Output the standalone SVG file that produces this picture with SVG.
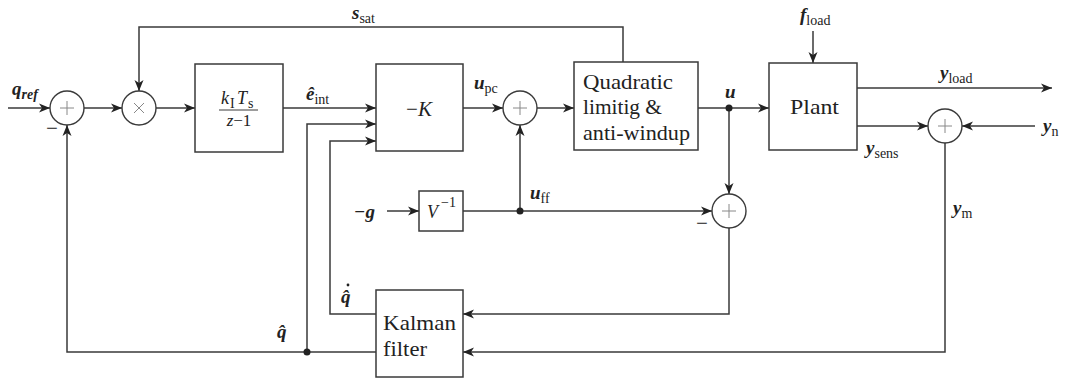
<svg xmlns="http://www.w3.org/2000/svg" width="1067" height="381" viewBox="0 0 1067 381">
<style>
.ln{fill:none;stroke:#3a3a3a;stroke-width:1.5}
.bx{fill:#fff;stroke:#3a3a3a;stroke-width:1.5}
.op{fill:#fff;stroke:#3a3a3a;stroke-width:1.4}
.sg{stroke:#888;stroke-width:1}
text{font-family:"Liberation Serif","DejaVu Serif",serif;fill:#222}
.t{font-size:21px}
.v{font-size:19px;font-style:italic;font-weight:bold}
.s{font-size:14px}
.m{font-size:18px;font-style:italic}
</style>
<defs>
<marker id="ar" markerUnits="userSpaceOnUse" markerWidth="12" markerHeight="10" refX="11" refY="5" orient="auto">
<path d="M0,0.5 L11,5 L0,9.5 L3,5 z" fill="#222"/>
</marker>
</defs>
<g id="connectors">
<path class="ln" marker-end="url(#ar)" d="M8,108 L50,108"/>
<path class="ln" marker-end="url(#ar)" d="M84,108 L122,108"/>
<path class="ln" marker-end="url(#ar)" d="M156,108 L195,108"/>
<path class="ln" marker-end="url(#ar)" d="M283,108 L376,108"/>
<path class="ln" marker-end="url(#ar)" d="M307,352 L307,124 L376,124"/>
<path class="ln" marker-end="url(#ar)" d="M376,314 L330,314 L330,141 L376,141"/>
<path class="ln" marker-end="url(#ar)" d="M463,108 L503,108"/>
<path class="ln" marker-end="url(#ar)" d="M537,108 L574,108"/>
<path class="ln" marker-end="url(#ar)" d="M623,62 L623,27 L139,27 L139,91"/>
<path class="ln" marker-end="url(#ar)" d="M698,108 L769,108"/>
<path class="ln" marker-end="url(#ar)" d="M729,108 L729,194"/>
<path class="ln" marker-end="url(#ar)" d="M813,31 L813,63"/>
<path class="ln" marker-end="url(#ar)" d="M857,88 L1052,88"/>
<path class="ln" marker-end="url(#ar)" d="M857,126 L928,126"/>
<path class="ln" marker-end="url(#ar)" d="M1035,126 L962,126"/>
<path class="ln" marker-end="url(#ar)" d="M945,143 L945,352 L463,352"/>
<path class="ln" marker-end="url(#ar)" d="M729,228 L729,314 L463,314"/>
<path class="ln" marker-end="url(#ar)" d="M376,352 L67,352 L67,125"/>
<path class="ln" marker-end="url(#ar)" d="M387,211 L419,211"/>
<path class="ln" marker-end="url(#ar)" d="M463,211 L712,211"/>
<path class="ln" marker-end="url(#ar)" d="M520,211 L520,125"/>
<circle cx="307" cy="352" r="3.5" fill="#222"/>
<circle cx="520" cy="211" r="3.5" fill="#222"/>
<circle cx="729" cy="108" r="3.5" fill="#222"/>
</g>
<g id="sum1">
<circle class="op" cx="67" cy="108" r="17"/>
<path class="sg" d="M60,108 H74 M67,101 V115"/>
<text class="t" x="52" y="135" text-anchor="middle">−</text>
</g>
<g id="mult">
<circle class="op" cx="139" cy="108" r="17"/>
<path class="sg" d="M134,103 L144,113 M144,103 L134,113"/>
</g>
<g id="integrator">
<rect class="bx" x="195" y="64" width="88" height="88"/>
<text class="m" x="221" y="104" font-size="17">k</text>
<text class="s" x="230" y="108" font-size="11">I</text>
<text class="m" x="237" y="104" font-size="17">T</text>
<text class="s" x="248" y="108" font-size="11">s</text>
<line x1="219" y1="110" x2="258" y2="110" stroke="#3a3a3a" stroke-width="1"/>
<text x="239" y="126" font-size="17" text-anchor="middle"><tspan font-style="italic">z</tspan>−1</text>
</g>
<g id="gainK">
<rect class="bx" x="376" y="64" width="87" height="87"/>
<text class="t" x="419" y="116" text-anchor="middle">−<tspan font-style="italic">K</tspan></text>
</g>
<g id="sum2">
<circle class="op" cx="520" cy="108" r="17"/>
<path class="sg" d="M513,108 H527 M520,101 V115"/>
</g>
<g id="limiter">
<rect class="bx" x="574" y="62" width="124" height="88"/>
<text class="t" x="583" y="89" textLength="90" lengthAdjust="spacingAndGlyphs">Quadratic</text>
<text class="t" x="583" y="114" textLength="79" lengthAdjust="spacingAndGlyphs">limitig &amp;</text>
<text class="t" x="583" y="140" textLength="107" lengthAdjust="spacingAndGlyphs">anti-windup</text>
</g>
<g id="plant">
<rect class="bx" x="769" y="63" width="88" height="87"/>
<text class="t" x="790" y="114" textLength="49" lengthAdjust="spacingAndGlyphs">Plant</text>
</g>
<g id="sum_y">
<circle class="op" cx="945" cy="126" r="17"/>
<path class="sg" d="M938,126 H952 M945,119 V133"/>
</g>
<g id="Vinv">
<rect class="bx" x="419" y="191" width="44" height="40"/>
<text class="m" x="427" y="218" font-size="20">V</text>
<text class="s" x="441" y="207">−1</text>
</g>
<g id="sum3">
<circle class="op" cx="729" cy="211" r="17"/>
<path class="sg" d="M722,211 H736 M729,204 V218"/>
<text class="t" x="702" y="230" text-anchor="middle">−</text>
</g>
<g id="kalman">
<rect class="bx" x="376" y="290" width="87" height="87"/>
<text class="t" x="383" y="330" textLength="73" lengthAdjust="spacingAndGlyphs">Kalman</text>
<text class="t" x="383" y="356" textLength="44" lengthAdjust="spacingAndGlyphs">filter</text>
</g>
<g id="labels">
<text class="v" x="12" y="95">q<tspan class="s" font-weight="bold" dy="4">ref</tspan></text>
<text class="v" x="352" y="19">s<tspan class="s" font-style="normal" font-weight="normal" dy="4">sat</tspan></text>
<text class="v" x="306" y="100">ê<tspan class="s" font-style="normal" font-weight="normal" dy="4">int</tspan></text>
<text class="v" x="474" y="89">u<tspan class="s" font-style="normal" font-weight="normal" dy="4">pc</tspan></text>
<text class="v" x="530" y="199">u<tspan class="s" font-style="normal" font-weight="normal" dy="4">ff</tspan></text>
<text class="v" x="354" y="218">−g</text>
<text class="v" x="725" y="98">u</text>
<text class="v" x="800" y="21">f<tspan class="s" font-style="normal" font-weight="normal" dy="4">load</tspan></text>
<text class="v" x="940" y="79">y<tspan class="s" font-style="normal" font-weight="normal" dy="4">load</tspan></text>
<text class="v" x="866" y="154">y<tspan class="s" font-style="normal" font-weight="normal" dy="4">sens</tspan></text>
<text class="v" x="1043" y="132">y<tspan class="s" font-style="normal" font-weight="normal" dy="4">n</tspan></text>
<text class="v" x="953" y="214">y<tspan class="s" font-style="normal" font-weight="normal" dy="4">m</tspan></text>
<text class="v" x="277" y="338">q̂</text>
<text class="v" x="341" y="303">q̂</text>
<circle cx="348" cy="285" r="1.4" fill="#222"/>
</g>
</svg>
